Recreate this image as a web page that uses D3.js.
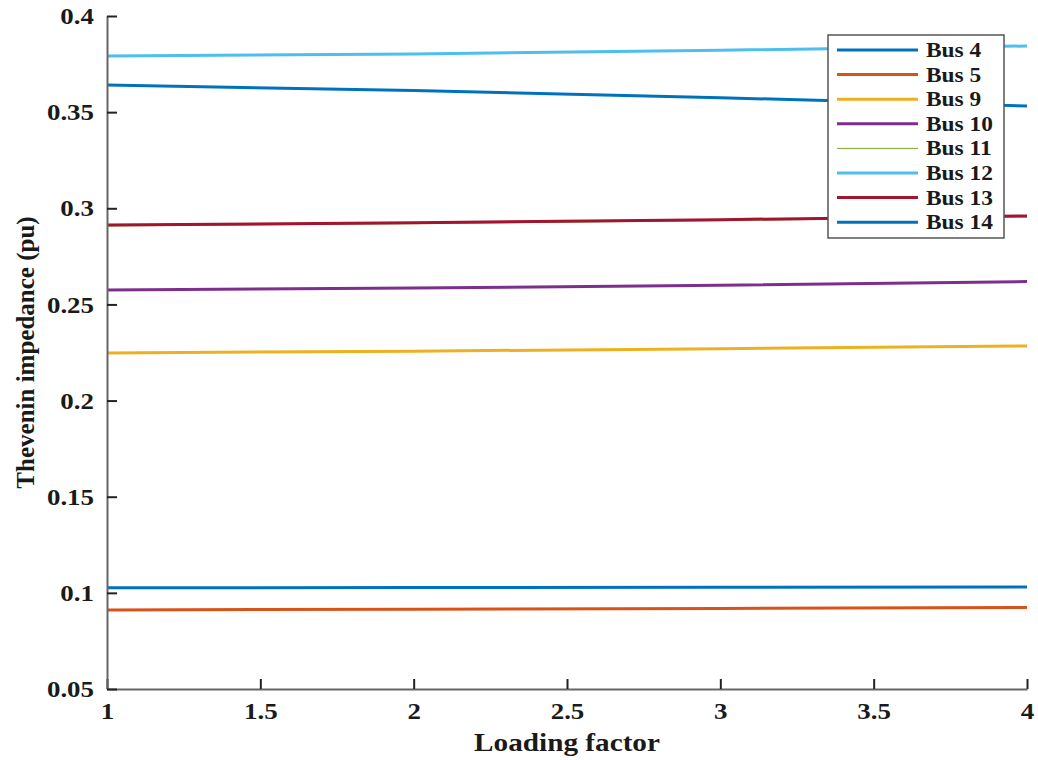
<!DOCTYPE html>
<html>
<head>
<meta charset="utf-8">
<script src="https://cdn.jsdelivr.net/npm/d3@7"></script>
<style>
  body { margin: 0; background: #fff; }
  svg { display: block; }
  text { font-family: "Liberation Serif", "Times New Roman", serif; font-weight: bold; fill: #1a1a1a; }
</style>
</head>
<body>
<svg id="chart" width="1038" height="760"></svg>
<script>
// Loading factor samples
const loading = [1, 2, 3, 4];

// Thevenin impedance (pu) per bus
const bus4  = [0.3641, 0.3612, 0.3575, 0.3532];
const bus5  = [0.0911, 0.0915, 0.0919, 0.0924];
const bus9  = [0.2248, 0.2257, 0.2270, 0.2284];
const bus10 = [0.2575, 0.2585, 0.2600, 0.2619];
const bus11 = [0.2908, 0.2920, 0.2936, 0.2955];
const bus12 = [0.3792, 0.3803, 0.3822, 0.3844];
const bus13 = [0.2913, 0.2925, 0.2941, 0.2960];
const bus14 = [0.1026, 0.1028, 0.1029, 0.1031];

const busNames = ["Bus 4", "Bus 5", "Bus 9", "Bus 10", "Bus 11", "Bus 12", "Bus 13", "Bus 14"];
const busValues = [bus4, bus5, bus9, bus10, bus11, bus12, bus13, bus14];
const busColors = ["#0072BD", "#D95319", "#EDB120", "#7E2F8E", "#77AC30", "#4DBEEE", "#A2142F", "#0072BD"];
const busWidths = [3, 3, 3, 3, 1, 3, 3, 3];

const xTicks = [1, 1.5, 2, 2.5, 3, 3.5, 4];
const yTicks = [0.05, 0.1, 0.15, 0.2, 0.25, 0.3, 0.35, 0.4];

const svg = d3.select("#chart");
const plotLeft = 107, plotRight = 1027, plotTop = 16, plotBottom = 689;
const stretch = 1.17; // wide bold serif lettering

const x = d3.scaleLinear().domain([1, 4]).range([plotLeft, plotRight]);
const y = d3.scaleLinear().domain([0.05, 0.4]).range([plotBottom, plotTop]);

// Series lines
const line = d3.line().x(d => x(d[0])).y(d => y(d[1]));
busValues.forEach((vals, i) => {
  svg.append("path")
    .datum(loading.map((l, j) => [l, vals[j]]))
    .attr("d", line)
    .attr("fill", "none")
    .attr("stroke", busColors[i])
    .attr("stroke-width", busWidths[i]);
});

// Axes (ticks point inward)
const xAxis = svg.append("g").attr("transform", `translate(0,${plotBottom})`)
  .call(d3.axisBottom(x).tickValues(xTicks).tickSizeInner(-10).tickSizeOuter(0)
    .tickFormat(d => d3.format("")(d)));
const yAxis = svg.append("g").attr("transform", `translate(${plotLeft},0)`)
  .call(d3.axisLeft(y).tickValues(yTicks).tickSizeInner(-10).tickSizeOuter(0)
    .tickFormat(d => d3.format("")(+d.toFixed(2))));

[xAxis, yAxis].forEach(g => {
  g.select(".domain").attr("stroke", "#666").attr("stroke-width", 2);
  g.selectAll(".tick line").attr("stroke", "#222").attr("stroke-width", 2);
  g.selectAll(".tick text").attr("font-size", 23).attr("fill", "#1a1a1a")
    .style("font-family", "'Liberation Serif', serif").style("font-weight", "bold");
});
xAxis.selectAll(".tick text").attr("x", 0).attr("y", 0).attr("dy", 0)
  .attr("transform", `translate(0,30) scale(${stretch},1)`);
yAxis.selectAll(".tick text").attr("x", 0).attr("dy", "0.33em")
  .attr("transform", `translate(-13,0) scale(${stretch},1)`);

// Axis titles
svg.append("text")
  .attr("transform", `translate(${(plotLeft + plotRight) / 2},751) scale(${stretch},1)`)
  .attr("text-anchor", "middle").attr("font-size", 25).text("Loading factor");
svg.append("text").attr("transform", `translate(34,${(plotTop + plotBottom) / 2}) rotate(-90)`)
  .attr("text-anchor", "middle").attr("font-size", 25).text("Thevenin impedance (pu)");

// Legend
const lg = svg.append("g");
lg.append("rect").attr("x", 828).attr("y", 35).attr("width", 176).attr("height", 203)
  .attr("fill", "#fff").attr("stroke", "#555").attr("stroke-width", 1.5);
busNames.forEach((name, i) => {
  const yy = 50 + i * 24.6;
  lg.append("line").attr("x1", 837).attr("x2", 918).attr("y1", yy).attr("y2", yy)
    .attr("stroke", busColors[i]).attr("stroke-width", busWidths[i]);
  lg.append("text").attr("transform", `translate(926,${yy + 7}) scale(${stretch},1)`)
    .attr("font-size", 20).text(name);
});
</script>
</body>
</html>
